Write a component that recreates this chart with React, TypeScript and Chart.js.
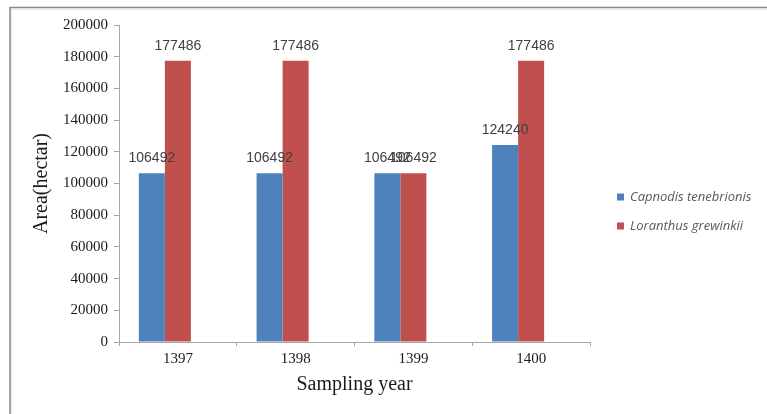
import React, { useEffect, useRef } from "react";
import { Chart, registerables } from "chart.js";

Chart.register(...registerables);

const categories = ["1397", "1398", "1399", "1400"];
const capnodis = [106492, 106492, 106492, 124240];
const loranthus = [177486, 177486, 106492, 177486];
const emptySeries = [null, null, null, null];
const yTicks = [0, 20000, 40000, 60000, 80000, 100000, 120000, 140000, 160000, 180000, 200000];

const SERIF = "'Liberation Serif', 'Times New Roman', serif";
const SANS = "'Liberation Sans', Arial, sans-serif";
const LEGEND_FONT = "'Open Sans', 'Liberation Sans', sans-serif";

const framePlugin = {
  id: "frame",
  beforeDraw(chart: any) {
    const ctx = chart.ctx;
    ctx.save();
    ctx.fillStyle = "#ffffff";
    ctx.fillRect(0, 0, chart.width, chart.height);
    ctx.strokeStyle = "#e6e6e6";
    ctx.lineWidth = 1;
    ctx.beginPath();
    ctx.moveTo(11.5, chart.height);
    ctx.lineTo(11.5, 9.5);
    ctx.lineTo(chart.width, 9.5);
    ctx.stroke();
    ctx.strokeStyle = "#8a8a8a";
    ctx.lineWidth = 1.5;
    ctx.beginPath();
    ctx.moveTo(10, chart.height);
    ctx.lineTo(10, 7.5);
    ctx.lineTo(chart.width, 7.5);
    ctx.stroke();
    ctx.restore();
  },
};

const valueLabelPlugin = {
  id: "valueLabels",
  afterDatasetsDraw(chart: any) {
    const ctx = chart.ctx;
    ctx.save();
    ctx.font = `14px ${SANS}`;
    ctx.fillStyle = "#404040";
    ctx.textAlign = "center";
    ctx.textBaseline = "middle";
    chart.data.datasets.forEach((ds: any, di: number) => {
      if (!ds.label) return;
      const meta = chart.getDatasetMeta(di);
      meta.data.forEach((bar: any, i: number) => {
        const v = ds.data[i];
        if (v == null) return;
        ctx.fillText(String(v), bar.x, bar.y - 15);
      });
    });
    ctx.restore();
  },
};

const legendPlugin = {
  id: "customLegend",
  afterDraw(chart: any) {
    const ctx = chart.ctx;
    ctx.save();
    ctx.font = `italic 13px ${LEGEND_FONT}`;
    ctx.textBaseline = "middle";
    ctx.textAlign = "left";
    let y = 197;
    chart.data.datasets.forEach((ds: any) => {
      if (!ds.label) return;
      ctx.fillStyle = ds.backgroundColor;
      ctx.fillRect(617, y - 3.5, 7, 7);
      ctx.fillStyle = "#595959";
      ctx.fillText(ds.label, 630, y);
      y += 29;
    });
    ctx.restore();
  },
};

export default function App() {
  const ref = useRef<HTMLCanvasElement>(null);

  useEffect(() => {
    if (!ref.current) return;
    const chart = new Chart(ref.current, {
      type: "bar",
      data: {
        labels: categories,
        datasets: [
          { label: "Capnodis tenebrionis", data: capnodis, backgroundColor: "#4F81BD" },
          { label: "Loranthus grewinkii", data: loranthus, backgroundColor: "#C0504D" },
          { label: "", data: emptySeries as any, backgroundColor: "transparent" },
        ],
      },
      options: {
        responsive: false,
        animation: false,
        devicePixelRatio: 1,
        layout: { padding: { left: 10, top: 25, right: 177, bottom: 0 } },
        datasets: { bar: { categoryPercentage: 0.663, barPercentage: 1 } },
        plugins: {
          legend: { display: false },
          tooltip: { enabled: false },
        },
        scales: {
          x: {
            afterFit: (s: any) => {
              s.height = 72;
            },
            grid: {
              offset: true,
              drawOnChartArea: false,
              drawTicks: true,
              tickLength: 4,
              color: "#a6a6a6",
            },
            border: { display: true, color: "#a6a6a6" },
            ticks: {
              font: { family: SERIF, size: 15 },
              color: "#1a1a1a",
              padding: 4,
            },
            title: {
              display: true,
              text: "Sampling year",
              font: { family: SERIF, size: 20 },
              color: "#1a1a1a",
              padding: { top: 0, bottom: 17 },
            },
          },
          y: {
            min: 0,
            max: 200000,
            afterFit: (s: any) => {
              s.width = 109;
            },
            afterBuildTicks: (s: any) => {
              s.ticks = yTicks.map((v) => ({ value: v }));
            },
            grid: {
              drawOnChartArea: false,
              drawTicks: true,
              tickLength: 5,
              color: "#a6a6a6",
            },
            border: { display: true, color: "#a6a6a6" },
            ticks: {
              font: { family: SERIF, size: 15 },
              color: "#1a1a1a",
              padding: 6,
              callback: (v: any) => String(v),
            },
            title: {
              display: true,
              text: "Area(hectar)",
              font: { family: SERIF, size: 20 },
              color: "#1a1a1a",
              padding: { top: 20, bottom: 0 },
            },
          },
        },
      },
      plugins: [framePlugin, valueLabelPlugin, legendPlugin],
    });
    return () => chart.destroy();
  }, []);

  return (
    <div style={{ position: "fixed", left: 0, top: 0, width: 767, height: 414 }}>
      <canvas ref={ref} width={767} height={414} style={{ width: 767, height: 414, display: "block" }} />
    </div>
  );
}
